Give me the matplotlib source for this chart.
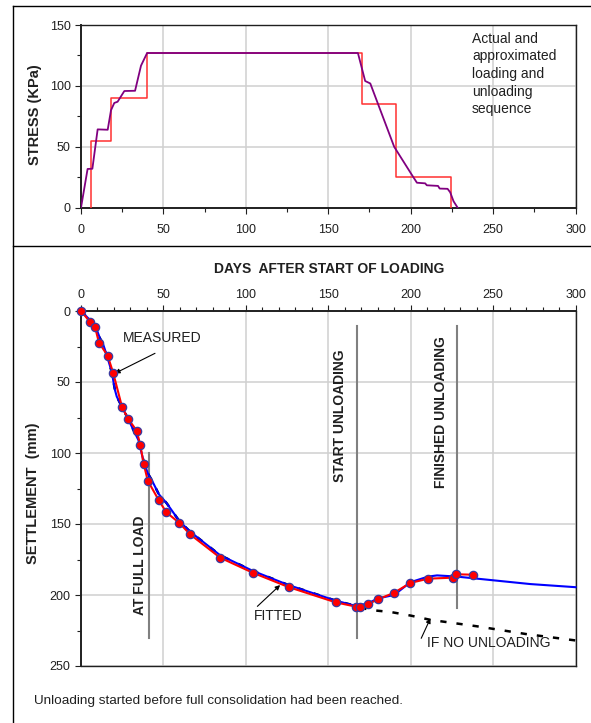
import matplotlib
matplotlib.use("Agg")
import matplotlib.pyplot as plt
from matplotlib.lines import Line2D
from matplotlib.ticker import MultipleLocator

plt.rcParams['font.family'] = ['Liberation Sans', 'DejaVu Sans']

# ---------------- data ----------------
# Top chart: actual loading / unloading sequence
actual_days = [0, 4, 6.9, 10.1, 16.2, 18.2, 20.2, 22.2, 26.3, 32.8, 36.4, 40.1,
               168, 172.4, 175.5, 190, 200.8, 203.8, 208.8, 209.8, 216.6, 217.6,
               222.4, 224, 226, 228.5]
actual_stress = [0, 31.8, 32, 64.3, 64, 80, 86, 87, 95.8, 96, 116.6, 127,
                 127, 104, 102, 50, 26.8, 20.5, 20, 18.4, 17.9, 15.7,
                 15.5, 12.6, 5.3, 0]
# approximated step sequence (steps-post)
approx_days = [6, 6, 18, 40, 170.5, 191, 224.7]
approx_stress = [0, 55, 90, 127, 85, 25.5, 0]

# Bottom chart: measured settlement
meas_days = [0, 5.7, 8.5, 10.9, 16.2, 19.6, 24.9, 28.5, 33.8, 36.0, 38.0, 40.5,
             47.2, 51.8, 59.7, 66.2, 84.4, 104.2, 125.9, 154.6, 166.8, 169.4,
             173.9, 180.1, 190.0, 199.8, 210.7, 225.5, 227.7, 237.6]
meas_settle = [0, 8.0, 11.3, 22.3, 31.5, 43.9, 67.6, 75.8, 84.3, 94.6, 107.5, 119.5,
               133.3, 141.8, 149.3, 157.3, 173.7, 184.3, 194.4, 205.2, 208.2, 208.2,
               206.6, 203.1, 198.4, 191.5, 188.5, 187.8, 185.4, 185.7]
# fitted curve
fit_days = [0, 8.5, 11.5, 13.6, 15.6, 18.6, 20.6, 21.7, 24.9, 28.5, 31.8, 34.8,
            37.8, 40.5, 42.9, 47.2, 52, 59.7, 66.2, 84.4, 104.2, 125.9, 154.6,
            166.8, 173.9, 180.1, 190, 199.8, 210.7, 216, 227.7, 272.6, 300]
fit_settle = [0, 9.9, 19.2, 24, 31, 42.7, 55.6, 60.3, 67.6, 75.8, 83.8, 90.8,
              105, 114.3, 119, 129, 135.4, 148, 155.4, 172, 183, 193, 204,
              207.7, 206, 202.4, 200, 191, 187, 186.2, 187, 192.3, 194.5]
# predicted if no unloading
noload_days = [166.8, 175, 188, 200, 212, 240, 270, 300]
noload_settle = [207.7, 210.5, 212, 214.5, 217.5, 222, 227.5, 232]

# event markers
event_days = [41, 167.4, 228]
event_top = [100, 10.6, 10.6]
event_bottom = [230, 230, 209]
event_labels = ['AT FULL LOAD', 'START UNLOADING', 'FINISHED UNLOADING']

# ---------------- figure ----------------
W, H = 591, 723
fig = plt.figure(figsize=(W / 100, H / 100), dpi=100)

def fx(px):
    return px / W

def fy(py):
    return 1 - py / H

# outer frame
fig.add_artist(Line2D([fx(13), fx(13)], [0, fy(5.5)], color='black', lw=1.0))
fig.add_artist(Line2D([fx(13), 1], [fy(5.5), fy(5.5)], color='black', lw=1.0))
fig.add_artist(Line2D([fx(13), 1], [fy(246), fy(246)], color='black', lw=1.0))

grid_col = '#d0d0d0'
tick_fs = 9
txt_col = '#202020'

def style_axes(ax):
    ax.grid(True, which='major', color=grid_col, lw=1.1)
    ax.set_axisbelow(True)
    for s in ax.spines.values():
        s.set_color('#202020')
        s.set_linewidth(1.0)
    ax.tick_params(which='both', direction='out', color='#202020', labelsize=tick_fs,
                   labelcolor=txt_col, width=0.8)
    ax.tick_params(which='major', length=4)
    ax.tick_params(which='minor', length=3)

# ---- top axes ----
ax1 = fig.add_axes([fx(81), fy(207.7), fx(575.5) - fx(81), fy(25) - fy(207.7)])
style_axes(ax1)
ax1.set_xlim(0, 300)
ax1.set_ylim(0, 150)
ax1.xaxis.set_major_locator(MultipleLocator(50))
ax1.xaxis.set_minor_locator(MultipleLocator(25))
ax1.yaxis.set_major_locator(MultipleLocator(50))
ax1.yaxis.set_minor_locator(MultipleLocator(25))
ax1.tick_params(axis='x', which='major', pad=7.5)
ax1.spines['left'].set_linewidth(1.4)
ax1.spines['bottom'].set_linewidth(1.4)

ax1.plot(approx_days, approx_stress, drawstyle='steps-post', color='#ff3030', lw=1.1, zorder=3)
ax1.plot(actual_days, actual_stress, color='#800080', lw=1.3, zorder=4)
ax1.text(237.2, 144.5, 'Actual and\napproximated\nloading and\nunloading\nsequence',
         ha='left', va='top', fontsize=10, linespacing=1.33, color=txt_col)

fig.text(fx(35), fy(115), 'STRESS (KPa)', rotation=90, ha='center', va='center',
         fontsize=10.5, fontweight='bold', color=txt_col)

# ---- bottom axes ----
ax2 = fig.add_axes([fx(81), fy(666), fx(575.5) - fx(81), fy(311) - fy(666)])
style_axes(ax2)
ax2.set_xlim(0, 300)
ax2.set_ylim(250, 0)
ax2.xaxis.tick_top()
ax2.xaxis.set_major_locator(MultipleLocator(50))
ax2.xaxis.set_minor_locator(MultipleLocator(10))
ax2.yaxis.set_major_locator(MultipleLocator(50))
ax2.yaxis.set_minor_locator(MultipleLocator(25))
ax2.spines['left'].set_linewidth(1.4)
ax2.spines['top'].set_linewidth(1.4)

for d, t, b in zip(event_days, event_top, event_bottom):
    ax2.plot([d, d], [t, b], color='#808080', lw=1.5, zorder=2)

ax2.text(35.8, 179, event_labels[0], rotation=90, ha='center', va='center',
         fontsize=10, fontweight='bold', color=txt_col)
ax2.text(157.2, 73.5, event_labels[1], rotation=90, ha='center', va='center',
         fontsize=10, fontweight='bold', color=txt_col)
ax2.text(218.6, 71, event_labels[2], rotation=90, ha='center', va='center',
         fontsize=10, fontweight='bold', color=txt_col)

# black dashed: fitted curve extended without unloading
n_fit = fit_days.index(166.8)
black_days = fit_days[:n_fit] + noload_days
black_settle = fit_settle[:n_fit] + noload_settle
ax2.plot(black_days, black_settle, color='black', lw=1.8, ls=(0, (2.5, 4)), zorder=3)

ax2.plot(fit_days, fit_settle, color='#0000ff', lw=1.5, zorder=4, clip_on=False)
ax2.plot(meas_days, meas_settle, color='#ff0000', lw=1.5, zorder=5)
ax2.plot(meas_days, meas_settle, ls='none', marker='o', ms=6, mfc='#ff0000',
         mec='#3a3aa0', mew=0.9, zorder=6, clip_on=False)

arrow = dict(arrowstyle='-|>', color='black', lw=0.8, mutation_scale=7, shrinkA=0, shrinkB=0)
ax2.text(25.3, 19, 'MEASURED', fontsize=10, ha='left', va='center', color=txt_col)
ax2.annotate('', xy=(20.6, 43.9), xytext=(44.9, 29.8), arrowprops=arrow)
ax2.text(105, 214.8, 'FITTED', fontsize=10, ha='left', va='center', color=txt_col)
ax2.annotate('', xy=(120.8, 193), xytext=(107, 208), arrowprops=arrow)
ax2.text(209.9, 234, 'IF NO UNLOADING', fontsize=10, ha='left', va='center', color=txt_col)
ax2.annotate('', xy=(212, 216.4), xytext=(206.4, 230.5), arrowprops=arrow)

fig.text(fx(329), fy(269.3), 'DAYS  AFTER START OF LOADING', ha='center', va='center',
         fontsize=10, fontweight='bold', color=txt_col)
fig.text(fx(33), fy(493), 'SETTLEMENT  (mm)', rotation=90, ha='center', va='center',
         fontsize=10.5, fontweight='bold', color=txt_col)

fig.text(fx(33.7), fy(700.7), 'Unloading started before full consolidation had been reached.',
         ha='left', va='center', fontsize=9.7, color=txt_col)

fig.savefig('out.png', dpi=100)
